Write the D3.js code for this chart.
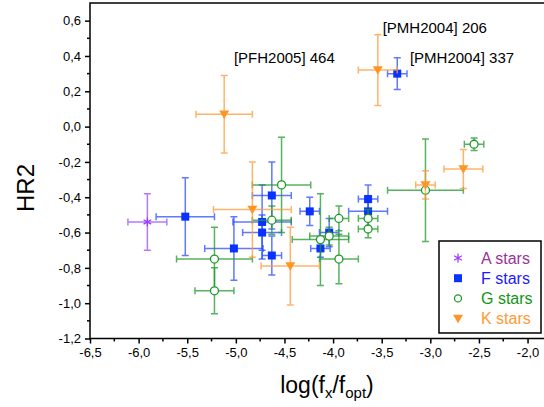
<!DOCTYPE html>
<html>
<head>
<meta charset="utf-8">
<script src="https://cdn.jsdelivr.net/npm/d3@7"></script>
<style>
body { margin: 0; background: #fff; }
text { font-family: Arial, "Liberation Sans", sans-serif; }
</style>
</head>
<body>
<div id="chart"></div>
<script>
// A stars
var aX = [-5.91], aY = [-0.54], aXerr = [0.20], aYerr = [0.16];
// F stars
var fX    = [-5.52, -5.02, -4.73, -4.73, -4.63, -4.63, -4.24, -4.04, -4.13, -3.64, -3.64, -3.34];
var fY    = [-0.51, -0.69, -0.54, -0.60, -0.39, -0.73, -0.48, -0.60, -0.69, -0.41, -0.48, 0.30];
var fXerr = [0.30, 0.30, 0.30, 0.20, 0.20, 0.10, 0.10, 0.10, 0.10, 0.10, 0.20, 0.10];
var fYerr = [0.22, 0.18, 0.21, 0.10, 0.19, 0.11, 0.08, 0.08, 0.05, 0.08, 0.05, 0.09];
// G stars
var gX    = [-5.22, -5.22, -4.63, -4.53, -4.13, -4.04, -3.94, -3.94, -3.64, -3.64, -3.05, -2.55];
var gY    = [-0.75, -0.93, -0.53, -0.33, -0.64, -0.62, -0.52, -0.75, -0.52, -0.58, -0.36, -0.10];
var gXerr = [0.39, 0.20, 0.20, 0.30, 0.29, 0.20, 0.10, 0.20, 0.10, 0.10, 0.39, 0.10];
var gYerr = [0.18, 0.13, 0.08, 0.27, 0.26, 0.05, 0.07, 0.14, 0.05, 0.05, 0.29, 0.035];
// K stars
var kX    = [-5.12, -4.83, -4.44, -3.54, -3.05, -2.66];
var kY    = [0.07, -0.47, -0.79, 0.32, -0.33, -0.24];
var kXerr = [0.29, 0.40, 0.30, 0.20, 0.10, 0.20];
var kYerr = [0.22, 0.27, 0.22, 0.20, 0.08, 0.11];

// annotations (anchored in data units)
var noteText = ["[PFH2005] 464", "[PMH2004] 206", "[PMH2004] 337"];
var noteX = [-5.02, -3.49, -3.21];
var noteY = [0.36, 0.53, 0.36];

var legendNames = ["A stars", "F stars", "G stars", "K stars"];
var xTickVals = d3.range(-6.5, -1.99, 0.5);
var yTickVals = d3.range(-1.2, 0.61, 0.2);

var width = 544, height = 407;
var svg = d3.select("#chart").append("svg")
    .attr("width", width)
    .attr("height", height);

var xScale = d3.scaleLinear().domain([-6.5, -1.8]).range([90, 547]);
var yScale = d3.scaleLinear().domain([-1.2, 0.7]).range([338.5, 3]);

function fmt(d) {
    return d.toFixed(1).replace(".", ",");
}

function toPoints(xs, ys, xe, ye) {
    return xs.map(function(d, i) {
        return {x: d, y: ys[i], xe: xe[i], ye: ye[i]};
    });
}

var series = [
    {name: legendNames[1], shape: "square", color: "#0a32ff", bar: "#2a4cff", text: "#1a1aff", data: toPoints(fX, fY, fXerr, fYerr)},
    {name: legendNames[2], shape: "circle", color: "#1e9a28", bar: "#1f9a2a", text: "#139413", data: toPoints(gX, gY, gXerr, gYerr)},
    {name: legendNames[3], shape: "triangle", color: "#ff9526", bar: "#ff9a36", text: "#ff9a33", data: toPoints(kX, kY, kXerr, kYerr)},
    {name: legendNames[0], shape: "asterisk", color: "#9a3cff", bar: "#9a4cff", text: "#993399", data: toPoints(aX, aY, aXerr, aYerr)}
];

// frame
svg.append("rect")
    .attr("x", xScale(-6.5)).attr("y", yScale(0.7))
    .attr("width", xScale(-1.8) - xScale(-6.5))
    .attr("height", yScale(-1.2) - yScale(0.7))
    .attr("fill", "none").attr("stroke", "#000").attr("stroke-width", 1.5);

var cap = 3.5;

function drawMarker(g, shape, color, px, py, s) {
    if (shape === "square") {
        g.append("rect").attr("x", px - s).attr("y", py - s)
            .attr("width", 2 * s).attr("height", 2 * s).attr("fill", color);
    } else if (shape === "circle") {
        g.append("circle").attr("cx", px).attr("cy", py).attr("r", s)
            .attr("fill", "#fff").attr("stroke", color).attr("stroke-width", 1.3);
    } else if (shape === "triangle") {
        var t = s * 1.25;
        g.append("path")
            .attr("d", "M" + (px - t) + "," + (py - t * 0.75) + "L" + (px + t) + "," + (py - t * 0.75) + "L" + px + "," + (py + t * 0.95) + "Z")
            .attr("fill", color);
    } else {
        var a = s * 1.1;
        var dx = a * Math.cos(Math.PI / 6), dy = a * Math.sin(Math.PI / 6);
        g.append("path")
            .attr("d", "M" + px + "," + (py - a) + "L" + px + "," + (py + a) +
                "M" + (px - dx) + "," + (py - dy) + "L" + (px + dx) + "," + (py + dy) +
                "M" + (px - dx) + "," + (py + dy) + "L" + (px + dx) + "," + (py - dy))
            .attr("stroke", color).attr("stroke-width", 1.3).attr("fill", "none");
    }
}

series.forEach(function(s) {
    var g = svg.append("g");
    var bars = g.append("g")
        .attr("stroke", s.bar).attr("stroke-width", 1.5).attr("stroke-opacity", 0.75).attr("fill", "none");
    s.data.forEach(function(d) {
        var cx = xScale(d.x), cy = yScale(d.y);
        var x0 = xScale(d.x - d.xe), x1 = xScale(d.x + d.xe);
        var y0 = yScale(d.y + d.ye), y1 = yScale(d.y - d.ye);
        bars.append("path").attr("d",
            "M" + x0 + "," + cy + "L" + x1 + "," + cy +
            "M" + x0 + "," + (cy - cap) + "L" + x0 + "," + (cy + cap) +
            "M" + x1 + "," + (cy - cap) + "L" + x1 + "," + (cy + cap) +
            "M" + cx + "," + y0 + "L" + cx + "," + y1 +
            "M" + (cx - cap) + "," + y0 + "L" + (cx + cap) + "," + y0 +
            "M" + (cx - cap) + "," + y1 + "L" + (cx + cap) + "," + y1);
    });
    s.data.forEach(function(d) {
        drawMarker(g, s.shape, s.color, xScale(d.x), yScale(d.y), 4);
    });
});

// axes
var xAxis = d3.axisBottom(xScale).tickValues(xTickVals).tickFormat(fmt).tickSize(5).tickPadding(4);
var yAxis = d3.axisLeft(yScale).tickValues(yTickVals).tickFormat(fmt).tickSize(5).tickPadding(4);

var gx = svg.append("g").attr("transform", "translate(0," + yScale(-1.2) + ")").call(xAxis);
var gy = svg.append("g").attr("transform", "translate(" + xScale(-6.5) + ",0)").call(yAxis);
[gx, gy].forEach(function(g) {
    g.select(".domain").remove();
    g.selectAll("line").attr("stroke", "#000").attr("stroke-width", 1.5);
    g.selectAll("text").attr("font-size", 13).attr("fill", "#000")
        .style("font-family", "Arial, 'Liberation Sans', sans-serif");
});

// minor ticks
var xMinor = d3.range(-6.25, -1.8, 0.5);
var yMinor = d3.range(-1.1, 0.7, 0.2);
svg.append("g").selectAll("line").data(xMinor).enter().append("line")
    .attr("x1", function(d) { return xScale(d); }).attr("x2", function(d) { return xScale(d); })
    .attr("y1", yScale(-1.2)).attr("y2", yScale(-1.2) + 3)
    .attr("stroke", "#000").attr("stroke-width", 1.5);
svg.append("g").selectAll("line").data(yMinor).enter().append("line")
    .attr("y1", function(d) { return yScale(d); }).attr("y2", function(d) { return yScale(d); })
    .attr("x1", xScale(-6.5)).attr("x2", xScale(-6.5) - 3)
    .attr("stroke", "#000").attr("stroke-width", 1.5);

// axis titles
svg.append("text")
    .attr("text-anchor", "middle")
    .attr("transform", "translate(34,188)rotate(-90)")
    .attr("font-size", 24)
    .text("HR2");

var xt = svg.append("text")
    .attr("x", 327).attr("y", 393)
    .attr("text-anchor", "middle")
    .attr("font-size", 23);
xt.append("tspan").text("log(f");
xt.append("tspan").attr("font-size", 15).attr("dy", 5).text("x");
xt.append("tspan").attr("dy", -5).text("/f");
xt.append("tspan").attr("font-size", 15).attr("dy", 5).text("opt");
xt.append("tspan").attr("dy", -5).text(")");

// annotations
svg.append("g").selectAll("text").data(noteText).enter().append("text")
    .attr("x", function(d, i) { return xScale(noteX[i]); })
    .attr("y", function(d, i) { return yScale(noteY[i]); })
    .attr("font-size", 15)
    .text(function(d) { return d; });

// legend
var order = [3, 0, 1, 2];
var lg = svg.append("g");
lg.append("rect")
    .attr("x", 439).attr("y", 241).attr("width", 102).attr("height", 92)
    .attr("fill", "#fff").attr("stroke", "#000").attr("stroke-width", 1.5);
order.forEach(function(si, i) {
    var s = series[si];
    var cy = 258 + i * 20.2;
    drawMarker(lg, s.shape, s.color, 458, cy, s.shape === "circle" ? 3.5 : 4);
    lg.append("text")
        .attr("x", 481).attr("y", cy + 5.5)
        .attr("font-size", 16)
        .attr("fill", s.text)
        .text(s.name);
});
</script>
</body>
</html>
